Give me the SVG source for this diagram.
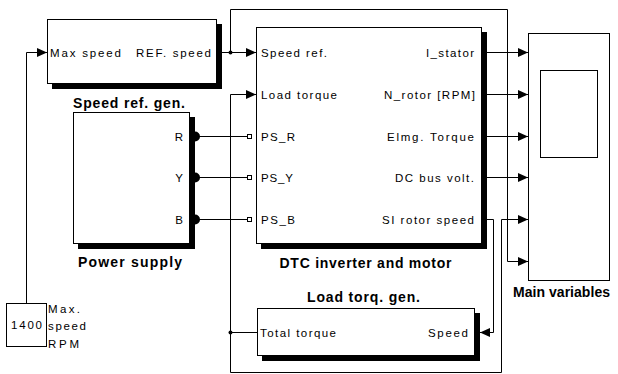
<svg xmlns="http://www.w3.org/2000/svg" width="618" height="374" viewBox="0 0 618 374">
<style>
.box{fill:#fff;stroke:#000;stroke-width:1}
.sh{fill:#000}
.ln{fill:none;stroke:#000;stroke-width:1}
.lbl{font-family:"Liberation Sans",Arial,sans-serif;font-size:11.5px;fill:#000}
.ttl{font-family:"Liberation Sans",Arial,sans-serif;font-size:14px;font-weight:bold;fill:#000}
.end{text-anchor:end}
.mid{text-anchor:middle}
</style>
<defs>
<marker id="ah" markerUnits="userSpaceOnUse" markerWidth="11" markerHeight="10" refX="10" refY="4.5" orient="auto" viewBox="0 0 11 10">
<path d="M0,0 L10,4.5 L0,9 Z" fill="#000"/>
</marker>
</defs>
<rect width="618" height="374" fill="#fff"/>

<g id="connectors">
<path class="ln" d="M26.5,303 V52.5 H47" marker-end="url(#ah)"/>
<path class="ln" d="M222,52.5 H256" marker-end="url(#ah)"/>
<path class="ln" d="M230.5,52.5 V9.5 H507.5 V261.5 H528" marker-end="url(#ah)"/>
<path class="ln" d="M257,332.5 H230.5"/>
<path class="ln" d="M230.5,332.5 V94.5 H256" marker-end="url(#ah)"/>
<path class="ln" d="M230.5,332.5 V372.5 H501.5 V219.5 H528" marker-end="url(#ah)"/>
<path class="ln" d="M487,52.5 H528" marker-end="url(#ah)"/>
<path class="ln" d="M487,94.5 H528" marker-end="url(#ah)"/>
<path class="ln" d="M487,136.5 H528" marker-end="url(#ah)"/>
<path class="ln" d="M487,177.5 H528" marker-end="url(#ah)"/>
<path class="ln" d="M487,219.5 H493.5 V332.5 H480" marker-end="url(#ah)"/>
<path class="ln" d="M199,136.5 H248"/>
<path class="ln" d="M199,177.5 H248"/>
<path class="ln" d="M199,219.5 H248"/>
<circle cx="230.5" cy="52.5" r="2" fill="#000"/>
<circle cx="230.5" cy="332.5" r="2" fill="#000"/>
</g>

<g id="speed-ref-gen">
<rect class="sh" x="52" y="24" width="170" height="65"/>
<rect class="box" x="47.5" y="19.5" width="169" height="64"/>
<text class="lbl" x="50" y="56.5" textLength="71" lengthAdjust="spacing">Max speed</text>
<text class="lbl end" x="211" y="56.5" textLength="75" lengthAdjust="spacing">REF. speed</text>
<text class="ttl mid" x="129" y="107.5" textLength="112" lengthAdjust="spacing">Speed ref. gen.</text>
</g>

<g id="power-supply">
<rect class="sh" x="78" y="117" width="117" height="132"/>
<rect class="box" x="73.5" y="112.5" width="116" height="131"/>
<path class="sh" d="M195,131.5 A5,5 0 0 1 195,141.5 Z"/>
<path class="sh" d="M195,172.5 A5,5 0 0 1 195,182.5 Z"/>
<path class="sh" d="M195,214.5 A5,5 0 0 1 195,224.5 Z"/>
<text class="lbl end" x="183" y="140.5">R</text>
<text class="lbl end" x="183" y="181.5">Y</text>
<text class="lbl end" x="183" y="223.5">B</text>
<text class="ttl mid" x="130" y="267" textLength="104" lengthAdjust="spacing">Power supply</text>
</g>

<g id="dtc-inverter-motor">
<rect class="sh" x="261" y="32" width="226" height="217"/>
<rect class="box" x="256.5" y="27.5" width="225" height="216"/>
<rect x="247.5" y="134.5" width="4" height="4" fill="#fff" stroke="#000"/>
<rect x="247.5" y="175.5" width="4" height="4" fill="#fff" stroke="#000"/>
<rect x="247.5" y="217.5" width="4" height="4" fill="#fff" stroke="#000"/>
<text class="lbl" x="261" y="56.5" textLength="66" lengthAdjust="spacing">Speed ref.</text>
<text class="lbl" x="261" y="98.5" textLength="76" lengthAdjust="spacing">Load torque</text>
<text class="lbl" x="261" y="140.5" textLength="34" lengthAdjust="spacing">PS_R</text>
<text class="lbl" x="261" y="181.5" textLength="32" lengthAdjust="spacing">PS_Y</text>
<text class="lbl" x="261" y="223.5" textLength="34" lengthAdjust="spacing">PS_B</text>
<text class="lbl end" x="474" y="56.5" textLength="48" lengthAdjust="spacing">I_stator</text>
<text class="lbl end" x="475" y="98.5" textLength="91" lengthAdjust="spacing">N_rotor [RPM]</text>
<text class="lbl end" x="474" y="140.5" textLength="87" lengthAdjust="spacing">Elmg. Torque</text>
<text class="lbl end" x="474" y="181.5" textLength="79" lengthAdjust="spacing">DC bus volt.</text>
<text class="lbl end" x="474" y="223.5" textLength="92" lengthAdjust="spacing">SI rotor speed</text>
<text class="ttl mid" x="365.5" y="268" textLength="172" lengthAdjust="spacing">DTC inverter and motor</text>
</g>

<g id="load-torq-gen">
<rect class="sh" x="262" y="313" width="218" height="48"/>
<rect class="box" x="257.5" y="308.5" width="217" height="47"/>
<text class="lbl" x="260" y="336.5" textLength="76" lengthAdjust="spacing">Total torque</text>
<text class="lbl end" x="468" y="336.5" textLength="40" lengthAdjust="spacing">Speed</text>
<text class="ttl mid" x="363.5" y="302" textLength="113" lengthAdjust="spacing">Load torq. gen.</text>
</g>

<g id="main-variables">
<rect class="box" x="528.5" y="33.5" width="81" height="247"/>
<rect class="box" x="540.5" y="70.5" width="57" height="87"/>
<text class="ttl mid" x="561.5" y="296.5" textLength="97" lengthAdjust="spacing">Main variables</text>
</g>

<g id="max-speed-const">
<rect class="box" x="6.5" y="303.5" width="40" height="43"/>
<text class="lbl mid" x="26.5" y="329" textLength="31" lengthAdjust="spacing">1400</text>
<text class="lbl" x="48" y="313" textLength="32" lengthAdjust="spacing">Max.</text>
<text class="lbl" x="48" y="330" textLength="38" lengthAdjust="spacing">speed</text>
<text class="lbl" x="48" y="348" textLength="31" lengthAdjust="spacing">RPM</text>
</g>
</svg>
